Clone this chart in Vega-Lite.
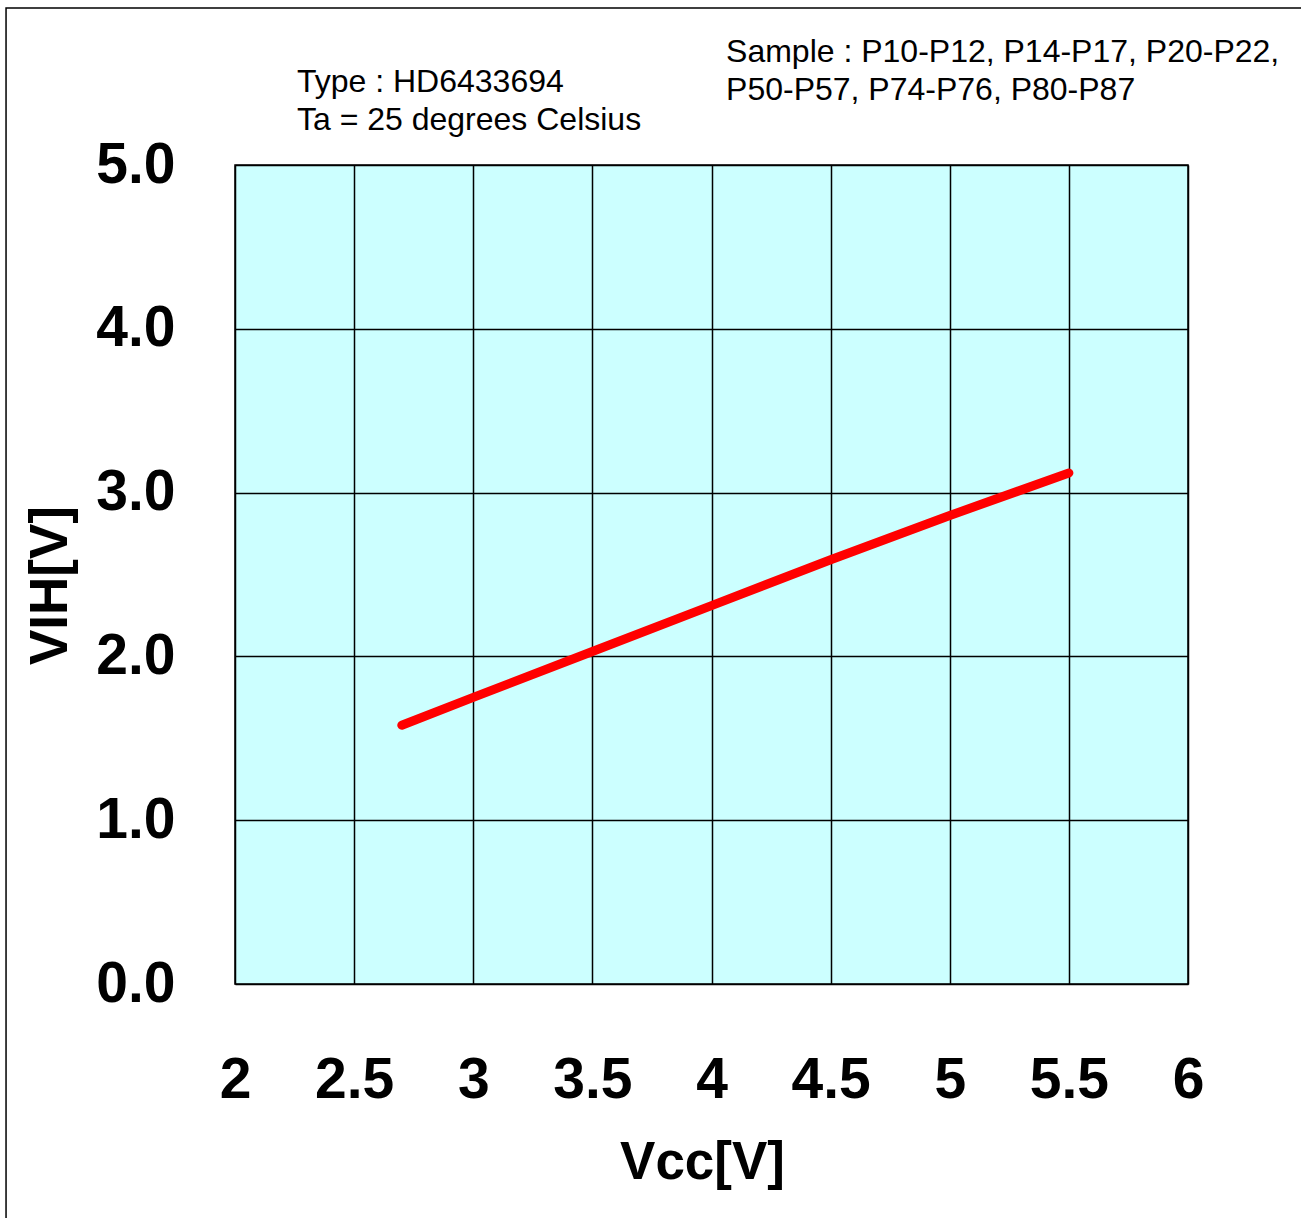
{
  "$schema": "https://vega.github.io/schema/vega-lite/v6.json",
  "autosize": {"type": "none"},
  "width": 953,
  "height": 819,
  "padding": {"left": 235, "top": 165, "right": 113, "bottom": 234},
  "background": "white",
  "config": {
    "view": {"fill": "#CCFFFF", "stroke": "black", "strokeWidth": 1.5},
    "axis": {"grid": true, "gridColor": "black", "gridWidth": 1.5, "gridOpacity": 1, "domain": false}
  },
  "datasets": {
    "curve": [
      {"vcc": 2.7, "vih": 1.58},
      {"vcc": 3.0, "vih": 1.75},
      {"vcc": 3.5, "vih": 2.03},
      {"vcc": 4.0, "vih": 2.31},
      {"vcc": 4.5, "vih": 2.59},
      {"vcc": 5.0, "vih": 2.86},
      {"vcc": 5.5, "vih": 3.12}
    ],
    "notes": [
      {"note": "Type : HD6433694\nTa = 25 degrees Celsius", "nx": 2.26, "ny": 5.445},
      {"note": "Sample : P10-P12, P14-P17, P20-P22,\nP50-P57, P74-P76, P80-P87", "nx": 4.061, "ny": 5.629}
    ],
    "frame": [
      {"fx1": 1.039, "fx2": 6.7, "fy1": -2.0, "fy2": 5.958}
    ]
  },
  "layer": [
    {
      "data": {"name": "frame"},
      "mark": {"type": "rect", "fill": "transparent", "stroke": "black", "strokeWidth": 1.5, "clip": false},
      "encoding": {
        "x": {"field": "fx1", "type": "quantitative", "scale": {"domain": [2, 6], "nice": false, "zero": false}},
        "x2": {"field": "fx2"},
        "y": {"field": "fy1", "type": "quantitative", "scale": {"domain": [0, 5], "nice": false}},
        "y2": {"field": "fy2"}
      }
    },
    {
      "data": {"name": "curve"},
      "mark": {"type": "line", "color": "#FF0000", "strokeWidth": 9, "strokeCap": "round", "strokeJoin": "round"},
      "encoding": {
        "x": {
          "field": "vcc", "type": "quantitative",
          "scale": {"domain": [2, 6], "nice": false, "zero": false},
          "axis": {
            "values": [2, 2.5, 3, 3.5, 4, 4.5, 5, 5.5, 6],
            "format": "~g",
            "ticks": false,
            "labelFlush": false,
            "labelOverlap": false,
            "labelFont": "Liberation Sans",
            "labelFontWeight": "bold",
            "labelFontSize": 57,
            "labelColor": "black",
            "labelPadding": 68,
            "title": "Vcc[V]",
            "titleFont": "Liberation Sans",
            "titleFontWeight": "bold",
            "titleFontSize": 53,
            "titleColor": "black",
            "titlePadding": 28,
            "titleX": 467,
            "titleAlign": "center"
          }
        },
        "y": {
          "field": "vih", "type": "quantitative",
          "scale": {"domain": [0, 5], "nice": false},
          "axis": {
            "values": [0, 1, 2, 3, 4, 5],
            "format": ".1f",
            "ticks": false,
            "labelOverlap": false,
            "labelFlush": false,
            "labelFont": "Liberation Sans",
            "labelFontWeight": "bold",
            "labelFontSize": 57,
            "labelColor": "black",
            "labelPadding": 60,
            "title": "VIH[V]",
            "titleFont": "Liberation Sans",
            "titleFontWeight": "bold",
            "titleFontSize": 53,
            "titleColor": "black",
            "titleAngle": -90,
            "titleX": -185,
            "titleY": 420,
            "titleAlign": "center",
            "titleBaseline": "middle"
          }
        }
      }
    },
    {
      "data": {"name": "notes"},
      "mark": {"type": "text", "align": "left", "baseline": "alphabetic", "font": "Liberation Sans", "fontSize": 32, "lineHeight": 38, "lineBreak": "\n", "color": "black", "clip": false},
      "encoding": {
        "x": {"field": "nx", "type": "quantitative"},
        "y": {"field": "ny", "type": "quantitative"},
        "text": {"field": "note"}
      }
    }
  ]
}
